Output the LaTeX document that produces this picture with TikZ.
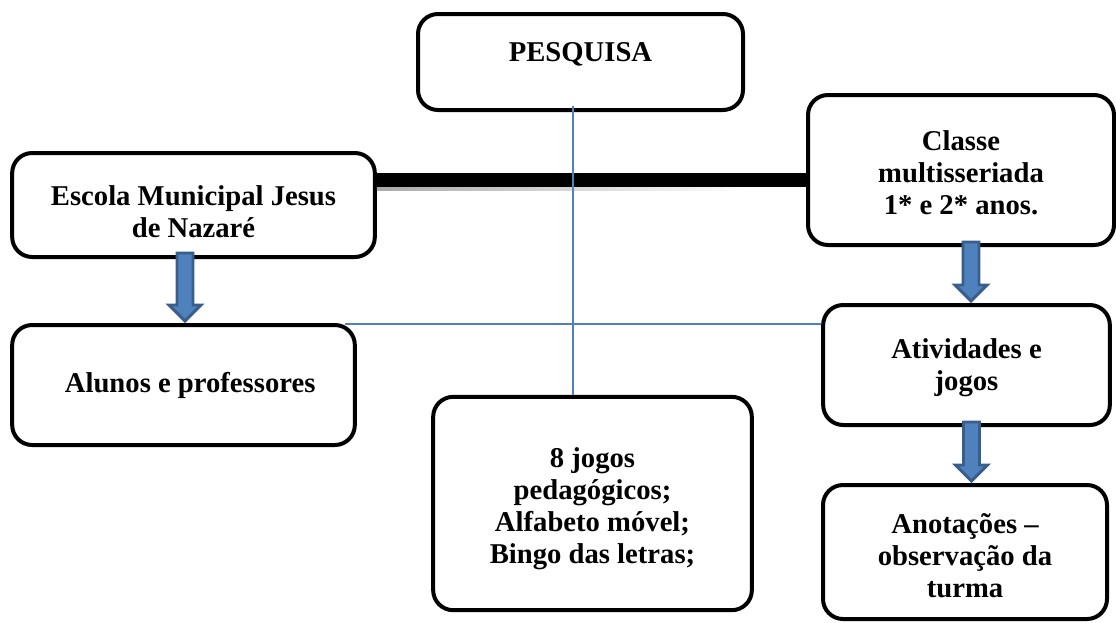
\documentclass[tikz,border=0pt]{standalone}
\usepackage{fontspec}
\setmainfont{Liberation Serif}
\usetikzlibrary{calc}
\definecolor{linkblue}{RGB}{79,129,189}
\definecolor{arrowfill}{RGB}{79,129,189}
\definecolor{arrowedge}{RGB}{58,94,140}
\definecolor{barshadow}{RGB}{170,170,170}

\tikzset{
  box/.style={draw=black, line width=3pt, rounded corners=15pt, fill=white,
    align=center, inner sep=0pt, font=\boxfont},
  blockarrow/.style={draw=arrowedge, fill=arrowfill, line width=2.2pt},
  linkline/.style={draw=linkblue, line width=1.3pt},
  thickbar/.style={draw=black, line width=10pt}
}
\newcommand{\boxfont}{\bfseries\fontsize{21.5}{24}\selectfont}
% strut on the first line pushes a text block down
\newcommand{\drop}[1]{\rule{0pt}{#1}}
% block arrow from a top point down to a tip point
\newcommand{\blockarrow}[2]{%
  \draw[blockarrow] ($(#1)+(-8,0)$) -- ($(#1)+(8,0)$) -- ($(#2)+(8,-16)$)
    -- ($(#2)+(16,-16)$) -- (#2) -- ($(#2)+(-16,-16)$) -- ($(#2)+(-8,-16)$) -- cycle;}

\begin{document}
\begin{tikzpicture}[x=0.75pt, y=-0.75pt]
\useasboundingbox (0,0) rectangle (1116,622);

% 1. BOXES
\node[box, minimum width=243.75pt, minimum height=72pt] (pesquisa) at (580.5,62) {};
\node[font=\boxfont, anchor=base] (pesquisaTxt) at (580.5,61) {PESQUISA};
\node[box, minimum width=272pt, minimum height=78pt] (escola) at (193.5,205)
  {\drop{25pt}Escola Municipal Jesus\\de Nazaré};
\node[box, minimum width=229.5pt, minimum height=112.5pt] (classe) at (961,170)
  {\drop{19pt}Classe\\multisseriada\\1* e 2* anos.};
\node[box, minimum width=257pt, minimum height=90pt] (alunos) at (183.5,385)
  {\hspace*{10pt}Alunos e professores};
\node[box, minimum width=239pt, minimum height=160pt] (jogos) at (592.5,503.5)
  {\drop{22pt}8 jogos\\pedagógicos;\\Alfabeto móvel;\\Bingo das letras;};
\node[box, minimum width=215pt, minimum height=90pt] (atividades) at (966.5,365)
  {\drop{19pt}Atividades e\\jogos};
\node[box, minimum width=213pt, minimum height=100.5pt] (anotacoes) at (965,552)
  {\drop{20pt}Anotações –\\observação da\\turma};

% 2. THICK BAR (Escola -- Classe)
\shade[left color=barshadow, right color=white] ($(escola.east |- 0,187)$) rectangle ($(0,190 -| classe.west)+(-60,0)$);
\draw[thickbar] (escola.east |- 0,180) -- (classe.west |- 0,180);

% 3. THIN BLUE LINKS
\coordinate (vtop) at ($(pesquisa.south)+(-7.5,-6)$);
\draw[linkline] (vtop) -- (vtop |- jogos.north);
\coordinate (hleft) at ($(alunos.north east)+(-12,1)$);
\draw[linkline] (hleft) -- (hleft -| atividades.west);

% 4. BLOCK ARROWS
\coordinate (escTop) at ($(escola.south -| 185,0)+(0,-6)$);
\coordinate (escTip) at ($(alunos.north -| 185,0)+(0,-2)$);
\blockarrow{escTop}{escTip}
\coordinate (claTop) at ($(classe.south -| 971,0)+(0,-5)$);
\coordinate (claTip) at ($(atividades.north -| 971,0)+(0,-2)$);
\blockarrow{claTop}{claTip}
\coordinate (atiTop) at ($(atividades.south -| 971.5,0)+(0,-5)$);
\coordinate (atiTip) at ($(anotacoes.north -| 971.5,0)+(0,-2)$);
\blockarrow{atiTop}{atiTip}

\end{tikzpicture}
\end{document}
